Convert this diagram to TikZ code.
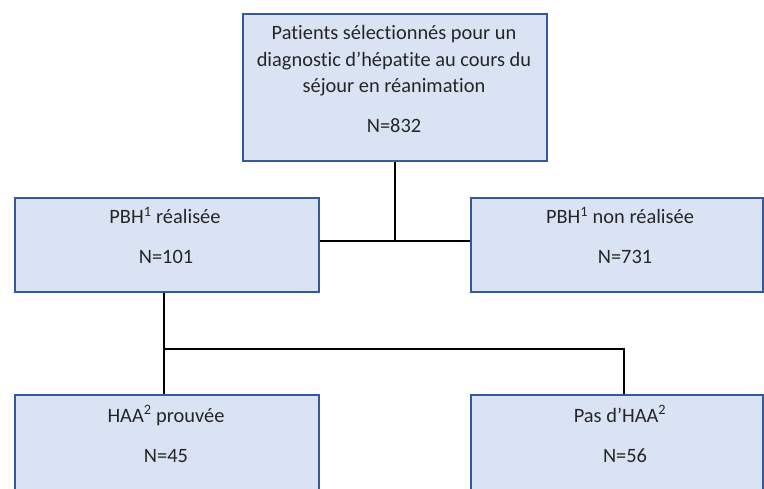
\documentclass[tikz,border=0pt]{standalone}
\usepackage{fontspec}
\setmainfont{Carlito}[Ligatures=CommonOff]
\definecolor{boxfill}{HTML}{DAE3F3}
\definecolor{boxline}{HTML}{35599A}
\begin{document}
\begin{tikzpicture}[x=1pt,y=-1pt,
  box/.style={draw=boxline, line width=2pt, fill=boxfill, inner sep=0pt, anchor=north west},
  txt/.style={font=\fontsize{20.4}{24}\selectfont, inner sep=0pt, anchor=base, text=black!85},
  link/.style={draw=black, line width=2pt}]
\clip (0,0) rectangle (764,489);
\fill[white] (0,0) rectangle (764,489);
% boxes
\node[box, minimum width=304pt, minimum height=147pt] (top) at (242,13) {};
\node[box, minimum width=304pt, minimum height=94pt] (pl) at (14,197) {};
\node[box, minimum width=292pt, minimum height=94pt] (pr) at (470,197) {};
\node[box, minimum width=304pt, minimum height=126pt] (bl) at (14,394) {};
\node[box, minimum width=292pt, minimum height=126pt] (br) at (470,394) {};
% texts
\node[txt] (t1) at (394,40) {Patients sélectionnés pour un};
\node[txt] (t2) at (394,67) {diagnostic d’hépatite au cours du};
\node[txt] (t3) at (394,93) {séjour en réanimation};
\node[txt] (t4) at (394,133) {N=832};
\node[txt] (pl1) at (165,224) {PBH\textsuperscript{1} réalisée};
\node[txt] (pl2) at (166,264) {N=101};
\node[txt] (pr1) at (620,224) {PBH\textsuperscript{1} non réalisée};
\node[txt] (pr2) at (625,264) {N=731};
\node[txt] (bl1) at (166,422) {HAA\textsuperscript{2} prouvée};
\node[txt] (bl2) at (166,462) {N=45};
\node[txt] (br1) at (620,422) {Pas d’HAA\textsuperscript{2}};
\node[txt] (br2) at (625,462) {N=56};
% connectors
\coordinate (j1) at (395,241);
\coordinate (j2) at (164,349);
\coordinate (j3) at (624,349);
\draw[link] (top.south -| j1) -- (j1);
\draw[link] (pl.east |- j1) -- (pr.west |- j1);
\draw[link] (pl.south -| j2) -- (bl.north -| j2);
\draw[link] (j2) -- (j3) -- (br.north -| j3);
\end{tikzpicture}
\end{document}
